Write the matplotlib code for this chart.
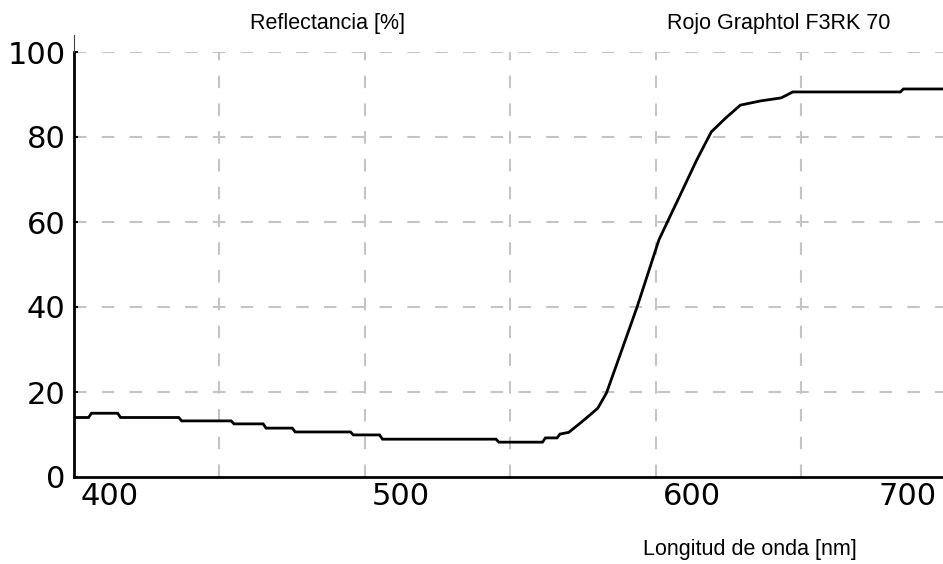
import matplotlib
matplotlib.use("Agg")
import matplotlib.pyplot as plt

plt.rcParams['lines.scale_dashes'] = False

# Data
wavelength = [400, 405, 406, 415, 416, 436, 437, 454, 455, 465,
              466, 475, 476, 495, 496, 505, 506, 545, 546, 561,
              562, 566, 567, 570, 574, 578, 580, 583, 588, 593.5,
              601, 608, 614, 619, 624, 629, 636, 643, 647,
              684, 685, 700]
reflectance = [14, 14, 15, 15, 14, 14, 13.2, 13.2, 12.5, 12.5,
               11.5, 11.5, 10.6, 10.6, 9.9, 9.9, 8.9, 8.9, 8.2, 8.2,
               9.2, 9.2, 10.1, 10.5, 12.7, 15, 16.2, 19.8, 29.4, 40,
               55.8, 65.9, 74.6, 81.2, 84.5, 87.5, 88.5, 89.2, 90.6,
               90.6, 91.3, 91.3]
x_ticks = [400, 500, 600, 700]
x_grid = [450, 500, 550, 600, 650, 700]
y_ticks = [0, 20, 40, 60, 80, 100]

title_left = "Reflectancia [%]"
title_right = "Rojo Graphtol F3RK 70"
x_label = "Longitud de onda [nm]"

W, H = 943, 564
fig = plt.figure(figsize=(W / 100, H / 100), dpi=100)
left_px, right_px, bottom_px, top_px = 74, 947, 477, 52
ax = fig.add_axes([left_px / W, 1 - bottom_px / H,
                   (right_px - left_px) / W, (bottom_px - top_px) / H])
ax.set_xlim(400, 700)
ax.set_ylim(0, 100)

# grid
grid_kw = dict(color="#c4c4c4", lw=1.5, linestyle=(0, (9, 11)), zorder=1)
for gx in x_grid:
    ax.axvline(gx, **grid_kw)
for gy in y_ticks[1:]:
    ax.axhline(gy, **grid_kw)

ax.plot(wavelength, reflectance, color="black", lw=2.0, zorder=3,
        solid_joinstyle="miter")

# thin extension of the left axis line above 100
ax.plot([400, 400], [100, 104], color="#444444", lw=0.8, clip_on=False,
        zorder=4)

for s in ["top", "right"]:
    ax.spines[s].set_visible(False)
for s in ["left", "bottom"]:
    ax.spines[s].set_linewidth(2.0)
    ax.spines[s].set_color("black")

ax.set_xticks(x_ticks)
ax.set_xticklabels([])
ax.set_yticks(y_ticks)
ax.tick_params(axis="y", direction="in", length=3, width=1.5, pad=6,
               labelsize=22, labelcolor="black")
ax.tick_params(axis="x", length=0)
for lab in ax.get_yticklabels():
    lab.set_fontfamily("DejaVu Sans")

# x tick labels, placed to the right of the tick positions
for v in x_ticks:
    xp = left_px + (v - 400) * (right_px - left_px) / 300.0
    if v == 700:
        fig.text(937 / W, 1 - 482 / H, str(v), ha="right", va="top",
                 fontsize=22, family="DejaVu Sans")
    else:
        fig.text((xp + 7) / W, 1 - 482 / H, str(v), ha="left", va="top",
                 fontsize=22, family="DejaVu Sans")

fig.text(328 / W, 1 - 23 / H, title_left, ha="center", va="center",
         fontsize=15.5, family="Liberation Sans")
fig.text(779 / W, 1 - 23 / H, title_right, ha="center", va="center",
         fontsize=15.5, family="Liberation Sans")
fig.text(750 / W, 1 - 549 / H, x_label, ha="center", va="center",
         fontsize=15.5, family="Liberation Sans")

fig.savefig("out.png", dpi=100)
